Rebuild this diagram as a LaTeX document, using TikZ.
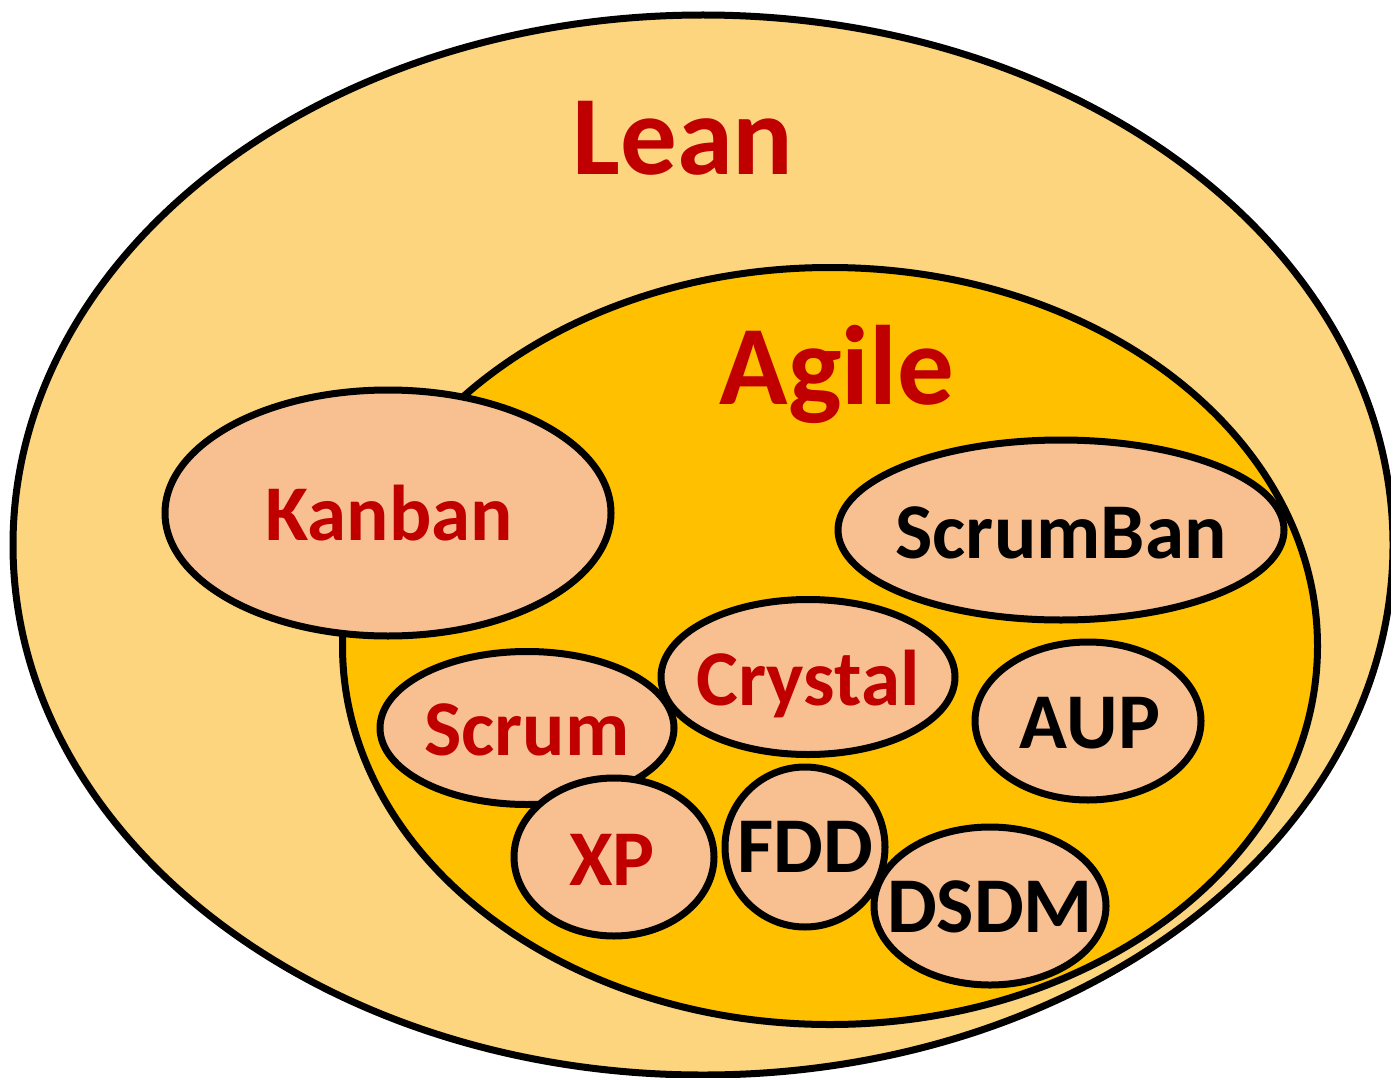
\documentclass[tikz,border=0pt]{standalone}
\usepackage{fontspec}
\setmainfont{Carlito}
\usetikzlibrary{shapes.geometric}
\definecolor{leanfill}{HTML}{FDD57E}
\definecolor{agilefill}{HTML}{FFC000}
\definecolor{methfill}{HTML}{F8C091}
\definecolor{redtxt}{HTML}{C00000}
\tikzset{
  blob/.style={ellipse, draw=black, inner sep=0pt},
  bigring/.style={blob, line width=7pt},
  meth/.style={blob, fill=methfill, line width=7pt},
  bigtxt/.style={anchor=base, text=redtxt, font=\fontsize{113}{113}\selectfont\bfseries, inner sep=0pt},
  redlbl/.style={anchor=base, text=redtxt, font=\fontsize{79}{79}\selectfont\bfseries, inner sep=0pt},
  blklbl/.style={anchor=base, text=black, font=\fontsize{79}{79}\selectfont\bfseries, inner sep=0pt}
}
\begin{document}
\begin{tikzpicture}[x=1pt,y=-1pt]
\useasboundingbox (0,0) rectangle (1391,1078);
% Lean
\node[bigring, fill=leanfill, minimum width=1380pt, minimum height=1060pt] (lean) at (703,545) {};
% Agile
\node[bigring, fill=agilefill, minimum width=975pt, minimum height=757pt] (agile) at (830,646) {};
% methods
\node[meth, minimum width=446pt, minimum height=246pt] (kanban) at (388,513) {};
\node[meth, minimum width=446pt, minimum height=180pt] (scrumban) at (1061,530) {};
\node[meth, minimum width=294pt, minimum height=153pt] (scrum) at (527,728) {};
\node[meth, minimum width=294pt, minimum height=155pt] (crystal) at (808,677) {};
\node[meth, minimum width=226pt, minimum height=158pt] (aup) at (1088,721) {};
\node[meth, minimum width=200pt, minimum height=158pt] (xp) at (614,857) {};
\node[meth, minimum width=160pt, minimum height=160pt] (fdd) at (805,847) {};
\node[meth, minimum width=232pt, minimum height=158pt] (dsdm) at (990,906) {};
% labels
\node[bigtxt] (leanlbl) at (683,175) {Lean};
\node[bigtxt] (agilelbl) at (837,404) {Agile};
\node[redlbl] (kanbanlbl) at (389,540) {Kanban};
\node[blklbl] (scrumbanlbl) at (1061,558) {ScrumBan};
\node[redlbl] (crystallbl) at (808,705) {Crystal};
\node[redlbl] (scrumlbl) at (527,755) {Scrum};
\node[blklbl] (auplbl) at (1090,748) {AUP};
\node[redlbl] (xplbl) at (612,885) {XP};
\node[blklbl] (fddlbl) at (805,872) {FDD};
\node[blklbl] (dsdmlbl) at (990,932) {DSDM};
\end{tikzpicture}
\end{document}
